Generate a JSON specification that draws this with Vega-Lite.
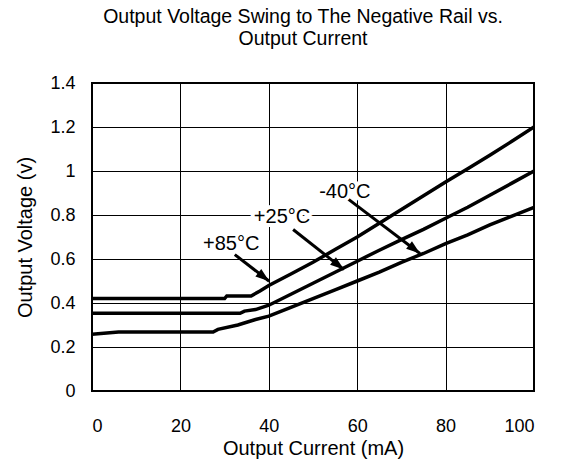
{
  "$schema": "https://vega.github.io/schema/vega-lite/v6.json",
  "width": 442,
  "height": 308,
  "autosize": "none",
  "padding": {"left": 92, "top": 83, "right": 27, "bottom": 74},
  "background": "white",
  "title": {
    "text": ["Output Voltage Swing to The Negative Rail vs.", "Output Current"],
    "font": "Liberation Sans, Arial",
    "fontSize": 19.5,
    "fontWeight": "normal",
    "color": "black",
    "lineHeight": 22,
    "anchor": "middle",
    "dx": -10,
    "offset": 25
  },
  "config": {
    "view": {"stroke": "black", "strokeWidth": 2},
    "axis": {
      "grid": true,
      "gridColor": "black",
      "gridOpacity": 1,
      "gridWidth": 1,
      "ticks": false,
      "domain": false,
      "labelFont": "Liberation Sans, Arial",
      "labelFontSize": 18,
      "labelColor": "black",
      "titleFont": "Liberation Sans, Arial",
      "titleFontSize": 20,
      "titleFontWeight": "normal",
      "titleColor": "black"
    }
  },
  "datasets": {
    "curves": [
      {"series": "+85", "current": 0, "voltage": 0.42},
      {"series": "+85", "current": 30, "voltage": 0.42},
      {"series": "+85", "current": 30.5, "voltage": 0.432},
      {"series": "+85", "current": 36, "voltage": 0.432},
      {"series": "+85", "current": 38, "voltage": 0.455},
      {"series": "+85", "current": 40, "voltage": 0.48},
      {"series": "+85", "current": 45, "voltage": 0.532},
      {"series": "+85", "current": 50, "voltage": 0.585},
      {"series": "+85", "current": 55, "voltage": 0.643},
      {"series": "+85", "current": 60, "voltage": 0.70},
      {"series": "+85", "current": 65, "voltage": 0.762},
      {"series": "+85", "current": 70, "voltage": 0.825},
      {"series": "+85", "current": 75, "voltage": 0.887},
      {"series": "+85", "current": 80, "voltage": 0.95},
      {"series": "+85", "current": 85, "voltage": 1.01},
      {"series": "+85", "current": 90, "voltage": 1.072},
      {"series": "+85", "current": 95, "voltage": 1.135},
      {"series": "+85", "current": 100, "voltage": 1.2},
      {"series": "+25", "current": 0, "voltage": 0.353},
      {"series": "+25", "current": 33.5, "voltage": 0.353},
      {"series": "+25", "current": 34.5, "voltage": 0.363},
      {"series": "+25", "current": 37, "voltage": 0.37},
      {"series": "+25", "current": 40, "voltage": 0.39},
      {"series": "+25", "current": 45, "voltage": 0.44},
      {"series": "+25", "current": 50, "voltage": 0.49},
      {"series": "+25", "current": 55, "voltage": 0.54},
      {"series": "+25", "current": 60, "voltage": 0.59},
      {"series": "+25", "current": 65, "voltage": 0.64},
      {"series": "+25", "current": 70, "voltage": 0.688},
      {"series": "+25", "current": 75, "voltage": 0.735},
      {"series": "+25", "current": 80, "voltage": 0.785},
      {"series": "+25", "current": 85, "voltage": 0.835},
      {"series": "+25", "current": 90, "voltage": 0.89},
      {"series": "+25", "current": 95, "voltage": 0.945},
      {"series": "+25", "current": 100, "voltage": 1.0},
      {"series": "-40", "current": 0, "voltage": 0.258},
      {"series": "-40", "current": 6, "voltage": 0.268},
      {"series": "-40", "current": 27.4, "voltage": 0.268},
      {"series": "-40", "current": 28.5, "voltage": 0.28},
      {"series": "-40", "current": 33, "voltage": 0.3},
      {"series": "-40", "current": 37, "voltage": 0.325},
      {"series": "-40", "current": 40, "voltage": 0.34},
      {"series": "-40", "current": 45, "voltage": 0.38},
      {"series": "-40", "current": 50, "voltage": 0.42},
      {"series": "-40", "current": 55, "voltage": 0.46},
      {"series": "-40", "current": 60, "voltage": 0.50},
      {"series": "-40", "current": 65, "voltage": 0.54},
      {"series": "-40", "current": 70, "voltage": 0.585},
      {"series": "-40", "current": 75, "voltage": 0.625},
      {"series": "-40", "current": 80, "voltage": 0.67},
      {"series": "-40", "current": 85, "voltage": 0.71},
      {"series": "-40", "current": 90, "voltage": 0.755},
      {"series": "-40", "current": 95, "voltage": 0.795},
      {"series": "-40", "current": 100, "voltage": 0.835}
    ],
    "arrows": [
      {"label": "+85°C", "x0": 32.3, "y0": 0.62, "x1": 40.1, "y1": 0.499},
      {"label": "+25°C", "x0": 45.5, "y0": 0.734, "x1": 57.0, "y1": 0.552},
      {"label": "-40°C", "x0": 57.6, "y0": 0.878, "x1": 74.2, "y1": 0.625}
    ],
    "labels": [
      {"label": "+85°C", "x": 31.5, "y": 0.67},
      {"label": "+25°C", "x": 43.0, "y": 0.79},
      {"label": "-40°C", "x": 57.2, "y": 0.903}
    ]
  },
  "layer": [
    {
      "data": {"name": "curves"},
      "mark": {"type": "line", "color": "black", "strokeWidth": 3.5, "clip": true},
      "encoding": {
        "x": {
          "field": "current", "type": "quantitative",
          "scale": {"domain": [0, 100], "nice": false},
          "axis": {"values": [0, 20, 40, 60, 80, 100], "title": "Output Current (mA)", "labelPadding": 26, "titlePadding": 3}
        },
        "y": {
          "field": "voltage", "type": "quantitative",
          "scale": {"domain": [0, 1.4], "nice": false},
          "axis": {"values": [0, 0.2, 0.4, 0.6, 0.8, 1, 1.2, 1.4], "format": "~g", "title": "Output Voltage (v)", "labelPadding": 17, "titlePadding": 14}
        },
        "detail": {"field": "series"}
      }
    },
    {
      "data": {"name": "arrows"},
      "mark": {"type": "rule", "color": "black", "strokeWidth": 3},
      "encoding": {
        "x": {"field": "x0", "type": "quantitative"},
        "y": {"field": "y0", "type": "quantitative"},
        "x2": {"field": "x1"},
        "y2": {"field": "y1"}
      }
    },
    {
      "data": {"name": "arrows"},
      "mark": {"type": "point", "shape": "M0,0L0.55,1.6L-0.55,1.6Z", "filled": true, "color": "black", "opacity": 1, "size": 300, "angle": 128},
      "encoding": {
        "x": {"field": "x1", "type": "quantitative"},
        "y": {"field": "y1", "type": "quantitative"}
      }
    },
    {
      "data": {"name": "labels"},
      "mark": {"type": "text", "font": "Liberation Sans, Arial", "fontSize": 20, "stroke": "white", "strokeWidth": 8, "strokeJoin": "round", "fill": "white"},
      "encoding": {
        "x": {"field": "x", "type": "quantitative"},
        "y": {"field": "y", "type": "quantitative"},
        "text": {"field": "label"}
      }
    },
    {
      "data": {"name": "labels"},
      "mark": {"type": "text", "font": "Liberation Sans, Arial", "fontSize": 20, "color": "black"},
      "encoding": {
        "x": {"field": "x", "type": "quantitative"},
        "y": {"field": "y", "type": "quantitative"},
        "text": {"field": "label"}
      }
    }
  ]
}
